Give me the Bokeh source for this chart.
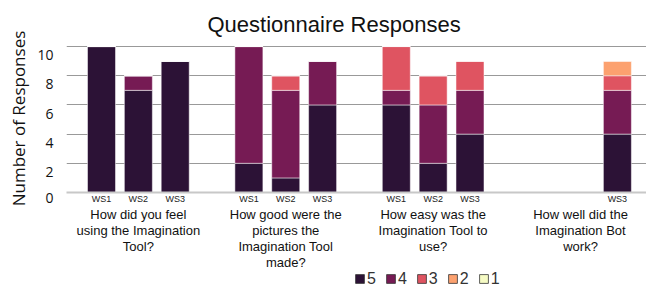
from bokeh.plotting import figure
from bokeh.layouts import column
from bokeh.models import (ColumnDataSource, Range1d, FixedTicker, Legend, LegendItem)
from bokeh.core.properties import value
from bokeh.embed import file_html
from bokeh.resources import INLINE

# ---------------- data ----------------
workshops = ["WS1", "WS2", "WS3"]
question_lines = [
    ["How did you feel", "using the Imagination", "Tool?"],
    ["How good were the", "pictures the", "Imagination Tool", "made?"],
    ["How easy was the", "Imagination Tool to", "use?"],
    ["How well did the", "Imagination Bot", "work?"],
]
bar_question = [0, 0, 0, 1, 1, 1, 2, 2, 2, 3]
bar_workshop = ["WS1", "WS2", "WS3", "WS1", "WS2", "WS3", "WS1", "WS2", "WS3", "WS3"]
levels = ["5", "4", "3", "2", "1"]
resp_5 = [10, 7, 9, 2, 1, 6, 6, 2, 4, 4]
resp_4 = [0, 1, 0, 8, 6, 3, 1, 4, 3, 3]
resp_3 = [0, 0, 0, 0, 1, 0, 3, 2, 2, 1]
resp_2 = [0, 0, 0, 0, 0, 0, 0, 0, 0, 1]
resp_1 = [0, 0, 0, 0, 0, 0, 0, 0, 0, 0]
y_ticks = [0, 2, 4, 6, 8, 10]
colors = ["#2c1236", "#761b54", "#df5461", "#fca16f", "#f6fbc4"]

title_text = "Questionnaire Responses"
y_title = "Number of Responses"

# ---------------- layout helpers ----------------
slots_per_group = 4
x_pos = [q * slots_per_group + workshops.index(w) for q, w in zip(bar_question, bar_workshop)]
group_centers = [qi * slots_per_group + 1 for qi in range(len(question_lines))]

src = ColumnDataSource(dict(x=x_pos, **{"5": resp_5, "4": resp_4, "3": resp_3,
                                         "2": resp_2, "1": resp_1}))

x_start, x_end = -0.95, 14.79
y_start, y_end = 0, 10.14
x_range = Range1d(x_start, x_end)

W = 646
H_MAIN = 206
H_LOW = 289 - H_MAIN

p = figure(width=W, height=H_MAIN, x_range=x_range,
           y_range=Range1d(y_start, y_end), output_backend="svg",
           toolbar_location=None, min_border_left=66, min_border_right=0,
           min_border_top=44, min_border_bottom=12)
p.outline_line_color = None
p.background_fill_color = "white"

bar_width = 0.76
p.vbar_stack(levels, x="x", width=bar_width, source=src, fill_color=colors,
             line_color="white", line_alpha=0.5, line_width=1)

# title
p.title.text = title_text
p.title.align = "left"
p.title.offset = 141
p.title.text_font = "Liberation Sans"
p.title.text_font_size = "22px"
p.title.text_font_style = "normal"
p.title.text_color = "#111111"
p.title.standoff = 16

# x axis (workshops)
p.xaxis.ticker = FixedTicker(ticks=x_pos)
p.xaxis.major_label_overrides = {xv: w for xv, w in zip(x_pos, bar_workshop)}
p.xaxis.major_tick_line_color = None
p.xaxis.minor_tick_line_color = None
p.xaxis.major_tick_out = 0
p.xaxis.minor_tick_out = 0
p.xaxis.major_label_standoff = 1
p.xaxis.major_label_text_font = "Liberation Sans"
p.xaxis.major_label_text_font_size = "9px"
p.xaxis.major_label_text_color = "#222222"
p.xaxis.axis_line_color = "#c8c8c8"
p.xaxis.axis_line_width = 2
p.xgrid.visible = False

# y axis
p.yaxis.ticker = FixedTicker(ticks=y_ticks)
p.yaxis.major_label_overrides = {t: "\n" + str(t) for t in y_ticks}
p.yaxis.major_label_text_line_height = 0.85
p.yaxis.axis_line_color = None
p.yaxis.major_tick_line_color = None
p.yaxis.minor_tick_line_color = None
p.yaxis.major_tick_out = 0
p.yaxis.minor_tick_out = 0
p.yaxis.major_label_standoff = 13
p.yaxis.major_label_text_font = "Open Sans"
p.yaxis.major_label_text_font_size = "14px"
p.yaxis.major_label_text_color = "#111111"
p.yaxis.axis_label = y_title
p.yaxis.axis_label_text_font = "Open Sans"
p.yaxis.axis_label_text_font_size = "17px"
p.yaxis.axis_label_text_font_style = "normal"
p.yaxis.axis_label_text_color = "#111111"
p.yaxis.axis_label_standoff = 4
p.ygrid.ticker = FixedTicker(ticks=y_ticks)
p.ygrid.grid_line_color = "#999999"
p.ygrid.grid_line_width = 1

# ---------------- lower strip: question labels + legend ----------------
q = figure(width=W, height=H_LOW, x_range=x_range, y_range=Range1d(H_LOW, 0),
           output_backend="svg", toolbar_location=None, x_axis_type=None,
           y_axis_type=None, min_border_left=66, min_border_right=0,
           min_border_top=0, min_border_bottom=0)
q.outline_line_color = None
q.xgrid.visible = False
q.ygrid.visible = False

line_h = 16
first_line = 8
lab_x, lab_y, lab_t = [], [], []
for c, lines in zip(group_centers, question_lines):
    for li, line in enumerate(lines):
        lab_x.append(c)
        lab_y.append(first_line + line_h * li)
        lab_t.append(line)
q.text(x=lab_x, y=lab_y, text=lab_t, text_align="center", text_baseline="middle",
       text_font=value("Liberation Sans"), text_font_size=value("13px"),
       text_color="#111111")

items = []
for lv, c in zip(levels, colors):
    r = q.vbar(x="x", top=lv, width=bar_width, source=src, fill_color=c,
               line_color="#333333", line_width=0.8, visible=False)
    items.append(LegendItem(label=lv, renderers=[r]))

legend = Legend(items=items, orientation="horizontal", location=(288, 1.5),
                glyph_width=11, glyph_height=11, label_standoff=2, spacing=9,
                label_width=0, label_height=16, padding=0, margin=0,
                border_line_color=None, background_fill_alpha=0,
                inactive_fill_alpha=0, click_policy="none",
                label_text_font="Liberation Sans", label_text_font_size="16px",
                label_text_color="#333333")
q.add_layout(legend, "center")

layout = column(p, q, spacing=0)
open("out.html", "w").write(file_html(layout, INLINE))
